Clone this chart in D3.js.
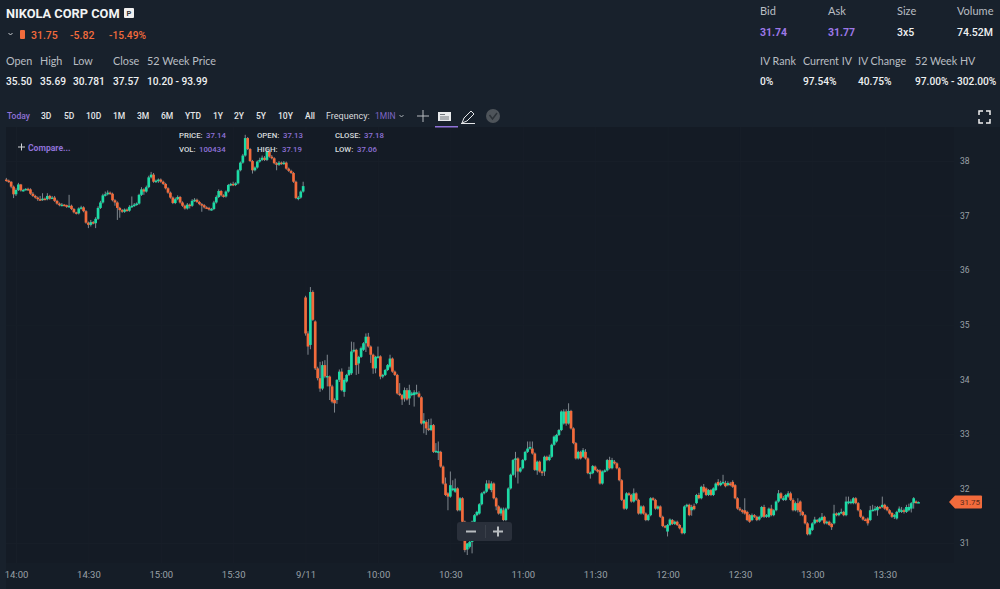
<!DOCTYPE html>
<html>
<head>
<meta charset="utf-8">
<script src="https://cdn.jsdelivr.net/npm/d3@7"></script>
<style>
html, body { margin: 0; padding: 0; background: #18212c; overflow: hidden; }
text { font-family: Roboto, sans-serif; }
.head { font-family: Lato, sans-serif; }
</style>
</head>
<body>
<div id="container"></div>
<script>
// one candle per minute, day one first, then 9/11 from the open
var opens = [
37.66,37.64,37.62,37.53,37.39,37.47,37.57,37.46,37.47,37.49,
37.48,37.40,37.36,37.33,37.30,37.29,37.31,37.30,37.36,37.31,
37.33,37.27,37.22,37.19,37.20,37.19,37.16,37.18,37.12,37.06,
37.04,37.13,37.15,37.08,36.87,36.83,36.88,36.86,36.94,37.14,
37.24,37.37,37.39,37.42,37.40,37.28,37.24,37.14,37.10,37.07,
37.11,37.09,37.16,37.18,37.20,37.22,37.38,37.48,37.44,37.52,
37.70,37.75,37.62,37.64,37.66,37.62,37.58,37.50,37.42,37.33,
37.23,37.30,37.34,37.24,37.18,37.13,37.20,37.18,37.27,37.29,
37.25,37.21,37.19,37.15,37.14,37.11,37.12,37.24,37.34,37.45,
37.37,37.35,37.44,37.56,37.58,37.56,37.59,37.83,37.97,38.10,
38.42,38.22,38.00,37.83,37.88,37.99,38.02,38.06,38.02,38.17,
38.08,38.05,37.96,37.93,37.97,37.95,37.97,37.86,37.82,37.78,
37.62,37.32,37.33,37.44,
35.50,34.84,34.63,35.60,35.06,34.20,34.02,33.83,34.26,34.05,
34.05,33.87,33.62,33.62,33.99,34.14,33.77,33.96,34.08,34.11,
34.51,34.54,34.29,34.41,34.54,34.66,34.78,34.60,34.45,34.20,
34.41,34.42,34.05,34.08,34.17,34.23,34.38,34.14,34.08,33.74,
33.71,33.65,33.80,33.65,33.71,33.71,33.74,33.74,33.67,33.19,
33.22,33.10,33.07,33.16,32.67,32.67,32.67,32.40,32.09,31.91,
31.85,31.97,31.94,32.00,31.60,31.82,31.39,30.88,30.93,31.02,
31.39,31.51,31.54,31.71,31.91,31.94,32.09,31.97,32.09,31.82,
31.67,31.54,31.60,31.42,31.63,32.00,32.25,32.52,32.55,32.31,
32.37,32.52,32.67,32.73,32.73,32.64,32.33,32.49,32.31,32.31,
32.58,32.52,32.58,32.80,32.86,32.98,33.07,33.19,33.41,33.19,
33.42,33.10,32.83,32.55,32.67,32.58,32.67,32.55,32.28,32.28,
32.40,32.34,32.33,32.09,32.31,32.33,32.52,32.37,32.49,32.46,
32.37,32.15,31.79,31.63,31.91,31.88,31.76,31.91,31.79,31.54,
31.67,31.54,31.42,31.51,31.82,31.79,31.63,31.67,31.48,31.31,
31.21,31.33,31.42,31.35,31.39,31.33,31.27,31.18,31.67,31.70,
31.60,31.68,31.73,31.88,31.82,32.03,32.00,31.88,31.97,31.88,
31.97,32.12,32.06,32.09,32.10,32.06,32.09,32.12,32.06,31.82,
31.63,31.60,31.60,31.57,31.51,31.42,31.51,31.48,31.43,31.48,
31.66,31.48,31.48,31.63,31.51,31.60,31.76,31.91,31.79,31.79,
31.85,31.91,31.79,31.60,31.73,31.76,31.57,31.51,31.36,31.16,
31.24,31.36,31.42,31.39,31.42,31.48,31.36,31.39,31.35,31.36,
31.54,31.51,31.55,31.57,31.51,31.73,31.73,31.73,31.82,31.73,
31.60,31.48,31.43,31.45,31.42,31.60,31.60,31.60,31.66,31.66,
31.70,31.66,31.60,31.55,31.48,31.45,31.57,31.57,31.60,31.57,
31.60,31.63,31.73,31.76,31.75
];
var closes = [
37.64,37.62,37.53,37.39,37.47,37.57,37.46,37.47,37.49,37.48,
37.40,37.36,37.33,37.30,37.29,37.31,37.30,37.36,37.31,37.33,
37.27,37.22,37.19,37.20,37.19,37.16,37.18,37.12,37.06,37.04,
37.13,37.15,37.08,36.87,36.83,36.88,36.86,36.94,37.14,37.24,
37.37,37.39,37.42,37.40,37.28,37.24,37.14,37.10,37.07,37.11,
37.09,37.16,37.18,37.20,37.22,37.38,37.48,37.44,37.52,37.70,
37.75,37.62,37.64,37.66,37.62,37.58,37.50,37.42,37.33,37.23,
37.30,37.34,37.24,37.18,37.13,37.20,37.18,37.27,37.29,37.25,
37.21,37.19,37.15,37.14,37.11,37.12,37.24,37.34,37.45,37.37,
37.35,37.44,37.56,37.58,37.56,37.59,37.83,37.97,38.10,38.42,
38.22,38.00,37.83,37.88,37.99,38.02,38.06,38.02,38.17,38.08,
38.05,37.96,37.93,37.97,37.95,37.97,37.86,37.82,37.78,37.62,
37.32,37.33,37.44,37.54,
34.84,34.60,35.60,35.09,34.20,34.02,33.83,34.26,34.05,34.06,
33.87,33.59,33.56,33.99,34.14,33.80,33.99,34.08,34.17,34.51,
34.54,34.26,34.41,34.57,34.66,34.78,34.60,34.45,34.20,34.41,
34.42,34.05,34.08,34.17,34.26,34.38,34.14,34.08,33.74,33.71,
33.63,33.80,33.63,33.80,33.74,33.76,33.76,33.68,33.19,33.24,
33.10,33.07,33.16,32.67,32.69,32.68,32.40,32.09,31.88,31.85,
32.06,32.00,32.00,31.60,31.82,31.39,30.87,30.99,31.02,31.39,
31.51,31.57,31.71,31.91,31.94,32.09,32.00,32.09,31.82,31.67,
31.54,31.63,31.42,31.63,32.00,32.25,32.52,32.55,32.31,32.37,
32.52,32.67,32.73,32.76,32.64,32.34,32.49,32.31,32.28,32.58,
32.52,32.58,32.80,32.95,32.98,33.07,33.41,33.41,33.19,33.42,
33.10,32.83,32.55,32.67,32.55,32.70,32.55,32.28,32.29,32.41,
32.34,32.31,32.09,32.31,32.33,32.52,32.37,32.52,32.46,32.37,
32.15,31.79,31.63,31.91,31.88,31.76,31.91,31.79,31.54,31.67,
31.54,31.42,31.51,31.82,31.79,31.63,31.67,31.48,31.31,31.29,
31.33,31.43,31.35,31.39,31.33,31.27,31.18,31.67,31.70,31.51,
31.66,31.62,31.88,31.82,32.03,31.94,31.88,31.97,31.88,32.00,
32.09,32.06,32.10,32.12,32.04,32.10,32.06,32.03,31.82,31.63,
31.60,31.57,31.54,31.42,31.39,31.51,31.48,31.42,31.48,31.66,
31.48,31.51,31.63,31.51,31.60,31.76,31.91,31.82,31.82,31.88,
31.91,31.79,31.60,31.73,31.60,31.57,31.51,31.36,31.16,31.27,
31.36,31.43,31.39,31.45,31.48,31.36,31.39,31.33,31.29,31.54,
31.51,31.55,31.57,31.51,31.76,31.76,31.76,31.82,31.73,31.60,
31.48,31.43,31.42,31.36,31.60,31.61,31.63,31.66,31.65,31.70,
31.63,31.60,31.54,31.48,31.51,31.57,31.63,31.60,31.57,31.66,
31.66,31.73,31.82,31.74,31.75
];
var highs = [
37.69,37.66,37.63,37.55,37.50,37.60,37.58,37.49,37.50,37.51,
37.50,37.43,37.38,37.35,37.36,37.41,37.33,37.41,37.38,37.36,
37.36,37.29,37.24,37.23,37.21,37.20,37.38,37.20,37.14,37.07,
37.15,37.18,37.17,37.10,36.89,36.92,36.90,36.97,37.17,37.27,
37.40,37.44,37.46,37.44,37.42,37.30,37.26,37.16,37.12,37.13,
37.13,37.19,37.35,37.23,37.24,37.40,37.52,37.50,37.55,37.73,
37.80,37.78,37.66,37.68,37.68,37.64,37.60,37.52,37.44,37.35,
37.33,37.37,37.36,37.26,37.20,37.23,37.22,37.30,37.32,37.31,
37.27,37.23,37.21,37.17,37.16,37.14,37.27,37.37,37.48,37.47,
37.39,37.46,37.58,37.60,37.62,37.61,37.85,37.99,38.13,38.48,
38.44,38.24,38.02,37.90,38.01,38.06,38.10,38.09,38.25,38.19,
38.11,38.07,37.98,38.00,37.99,38.00,37.99,37.88,37.84,37.80,
37.64,37.36,37.46,37.62,
35.53,34.88,35.69,35.63,35.08,34.23,34.32,34.33,34.35,34.45,
34.07,33.90,33.65,34.00,34.18,34.20,34.02,34.10,34.23,34.69,
34.68,34.56,34.43,34.60,34.68,34.84,34.85,34.62,34.47,34.43,
34.60,34.44,34.10,34.19,34.28,34.45,34.40,34.16,34.10,33.93,
33.73,33.85,33.84,33.90,33.77,33.80,33.90,33.78,33.69,33.38,
33.25,33.27,33.28,33.18,32.83,32.86,32.69,32.42,32.20,31.93,
32.31,32.15,32.18,32.02,31.84,31.84,31.41,31.00,31.04,31.41,
31.53,31.59,31.73,31.93,31.96,32.15,32.15,32.13,32.11,31.84,
31.69,31.65,31.65,31.65,32.02,32.27,32.54,32.67,32.57,32.39,
32.54,32.69,32.86,32.86,32.86,32.66,32.51,32.51,32.33,32.60,
32.60,32.62,32.82,32.97,33.00,33.09,33.43,33.45,33.45,33.56,
33.44,33.12,32.85,32.69,32.69,32.74,32.72,32.57,32.31,32.43,
32.42,32.36,32.35,32.33,32.35,32.54,32.58,32.56,32.52,32.48,
32.39,32.17,31.81,31.93,31.93,31.90,32.00,31.93,31.81,31.69,
31.69,31.56,31.53,31.84,31.84,31.81,31.69,31.69,31.50,31.33,
31.35,31.45,31.44,31.41,31.41,31.35,31.29,31.69,31.72,31.72,
31.70,31.72,31.90,31.92,32.05,32.08,32.02,31.99,31.99,32.02,
32.11,32.17,32.14,32.25,32.14,32.13,32.12,32.15,32.08,31.84,
31.66,31.62,31.82,31.59,31.53,31.54,31.53,31.50,31.50,31.68,
31.70,31.53,31.65,31.70,31.62,31.78,31.97,31.93,31.86,31.90,
31.95,31.94,31.82,31.76,31.82,31.78,31.59,31.53,31.38,31.29,
31.38,31.48,31.44,31.47,31.55,31.50,31.41,31.41,31.37,31.70,
31.56,31.57,31.63,31.59,31.85,31.85,31.80,31.84,31.84,31.75,
31.62,31.50,31.45,31.47,31.68,31.70,31.68,31.68,31.68,31.85,
31.72,31.68,31.62,31.57,31.53,31.59,31.67,31.66,31.63,31.70,
31.72,31.75,31.84,31.78,31.76
];
var lows = [
37.62,37.60,37.50,37.32,37.36,37.45,37.44,37.44,37.46,37.45,
37.38,37.34,37.31,37.27,37.27,37.27,37.28,37.28,37.29,37.31,
37.25,37.20,37.17,37.17,37.17,37.14,37.14,37.10,37.04,37.02,
37.02,37.11,37.06,36.85,36.77,36.80,36.84,36.77,36.92,37.12,
37.22,37.35,37.37,37.38,37.26,37.18,36.92,36.96,37.05,37.05,
37.07,37.07,37.14,37.16,37.18,37.20,37.36,37.38,37.42,37.50,
37.68,37.60,37.60,37.60,37.60,37.56,37.48,37.40,37.31,37.21,
37.21,37.28,37.22,37.16,37.11,37.11,37.13,37.16,37.25,37.23,
37.19,37.07,37.13,37.12,37.09,37.09,37.10,37.22,37.32,37.35,
37.33,37.33,37.42,37.54,37.54,37.54,37.57,37.81,37.95,38.08,
38.20,37.98,37.77,37.81,37.86,37.97,38.00,38.00,38.00,38.06,
38.03,37.94,37.83,37.91,37.93,37.93,37.84,37.80,37.76,37.60,
37.30,37.28,37.31,37.42,
34.80,34.45,34.55,35.07,34.17,33.98,33.77,33.80,34.02,33.87,
33.62,33.56,33.39,33.55,33.95,33.78,33.68,33.94,34.06,34.08,
34.49,34.08,34.10,34.39,34.52,34.50,34.58,34.30,34.10,34.11,
34.38,34.00,34.02,34.06,34.15,34.20,34.12,34.06,33.72,33.69,
33.53,33.59,33.61,33.53,33.69,33.50,33.72,33.66,33.17,33.01,
32.98,33.05,33.05,32.65,32.65,32.52,32.38,32.07,31.86,31.60,
31.83,31.95,31.92,31.58,31.58,31.37,30.83,30.78,30.90,30.81,
31.37,31.49,31.52,31.69,31.89,31.92,31.98,31.93,31.80,31.60,
31.52,31.50,31.40,31.40,31.61,31.98,32.23,32.20,32.09,32.29,
32.35,32.50,32.65,32.71,32.62,32.32,32.25,32.29,32.23,32.23,
32.50,32.50,32.56,32.78,32.84,32.96,33.05,33.17,33.15,33.17,
33.08,32.81,32.53,32.53,32.53,32.56,32.53,32.26,32.18,32.26,
32.32,32.29,32.07,32.07,32.29,32.31,32.35,32.35,32.44,32.35,
32.13,31.77,31.61,31.61,31.86,31.74,31.74,31.77,31.52,31.52,
31.52,31.40,31.40,31.49,31.77,31.61,31.61,31.46,31.29,31.27,
31.12,31.31,31.33,31.33,31.31,31.25,31.16,31.16,31.65,31.49,
31.50,31.60,31.71,31.80,31.80,31.92,31.86,31.86,31.86,31.86,
31.95,32.04,32.04,32.07,32.02,32.04,32.04,32.01,31.80,31.61,
31.58,31.54,31.52,31.40,31.37,31.40,31.46,31.40,31.41,31.46,
31.46,31.46,31.46,31.49,31.49,31.58,31.74,31.80,31.77,31.77,
31.83,31.77,31.58,31.58,31.56,31.50,31.49,31.34,31.14,31.14,
31.22,31.34,31.37,31.37,31.40,31.34,31.34,31.31,31.24,31.34,
31.49,31.49,31.53,31.49,31.49,31.71,31.71,31.71,31.71,31.58,
31.46,31.41,31.40,31.32,31.40,31.58,31.58,31.50,31.63,31.64,
31.61,31.58,31.52,31.46,31.44,31.43,31.55,31.55,31.54,31.55,
31.58,31.56,31.63,31.72,31.74
];

var priceTicks = [31, 32, 33, 34, 35, 36, 37, 38];
var timeTickIndex = [4, 34, 64, 94, 124, 154, 184, 214, 244, 274, 304, 334, 364];
var timeTickLabels = ["14:00", "14:30", "15:00", "15:30", "9/11", "10:00", "10:30", "11:00", "11:30", "12:00", "12:30", "13:00", "13:30"];
var lastPrice = 31.75;

var rangeButtons = ["Today", "3D", "5D", "10D", "1M", "3M", "6M", "YTD", "1Y", "2Y", "5Y", "10Y", "All"];
var rangeButtonX = [7, 41, 64, 86, 113, 137, 161, 185, 213, 234, 256, 278, 305];

var w = 1000, h = 589;
var bgHead = "#18212c", bgChart = "#141b25", up = "#1ddba6", down = "#f26b3c", purple = "#9d78e8", wickCol = "#7f878e";

var svg = d3.select("#container").append("svg").attr("width", w).attr("height", h).style("display", "block");

svg.append("rect").attr("width", w).attr("height", h).attr("fill", bgHead);
svg.append("rect").attr("x", 6).attr("y", 127).attr("width", 948).attr("height", 436).attr("fill", bgChart);
svg.append("rect").attr("x", 954).attr("y", 127).attr("width", 46).attr("height", 462).attr("fill", "#151d27");
svg.append("rect").attr("x", 6).attr("y", 563).attr("width", 948).attr("height", 26).attr("fill", "#151d27");

var xScale = d3.scaleLinear().domain([0, 378]).range([6.35, 918.5]);
var yScale = d3.scaleLinear().domain([31, 38]).range([543, 161]);

/*axes, the ticks double as the faint grid*/
var xAxis = d3.axisBottom(xScale).tickValues(timeTickIndex).tickSize(436)
    .tickFormat(function (d, i) { return timeTickLabels[i]; });
var gx = svg.append("g").attr("transform", "translate(0,127)").call(xAxis);
var yAxis = d3.axisRight(yScale).tickValues(priceTicks).tickSize(948).tickFormat(d3.format("d"));
var gy = svg.append("g").attr("transform", "translate(6,0)").call(yAxis);
gx.select(".domain").remove();
gy.select(".domain").remove();
gx.selectAll("line").attr("stroke", "#171e28");
gy.selectAll("line").attr("stroke", "#171e28");
gx.selectAll("text").attr("fill", "#9aa1a8").attr("font-size", 9.5).attr("y", 444);
gy.selectAll("text").attr("fill", "#9aa1a8").attr("font-size", 8.5).attr("x", 954).attr("dy", "0.32em");

/*candles*/
var candles = closes.map(function (c, i) {
    return {i: i, open: opens[i], close: c, high: highs[i], low: lows[i]};
});
var cg = svg.append("g");
cg.selectAll("line.wick").data(candles).enter().append("line")
    .attr("class", "wick")
    .attr("x1", function (d) { return xScale(d.i); })
    .attr("x2", function (d) { return xScale(d.i); })
    .attr("y1", function (d) { return yScale(d.high); })
    .attr("y2", function (d) { return yScale(d.low); })
    .attr("stroke", wickCol)
    .attr("stroke-width", 1);
cg.selectAll("rect.body").data(candles).enter().append("rect")
    .attr("class", "body")
    .attr("x", function (d) { return xScale(d.i) - 1.35; })
    .attr("width", 2.7)
    .attr("y", function (d) { return yScale(Math.max(d.open, d.close)); })
    .attr("height", function (d) { return Math.max(1.5, Math.abs(yScale(d.open) - yScale(d.close))); })
    .attr("fill", function (d) { return d.close >= d.open ? up : down; });

function txt(x, y, s, size, fill, weight, cls) {
    return svg.append("text").attr("x", x).attr("y", y).text(s)
        .attr("font-size", size).attr("fill", fill)
        .attr("font-weight", weight || 400)
        .attr("class", cls || null);
}

/*header left*/
txt(6, 18, "NIKOLA CORP COM", 12.8, "#f2f4f5", 700);
svg.append("rect").attr("x", 124).attr("y", 8).attr("width", 10).attr("height", 10).attr("rx", 1).attr("fill", "#f0f0f0");
txt(126.5, 16, "P", 7.5, "#333", 700);
svg.append("path").attr("d", "M8.5 33 L10.5 35 L12.5 33").attr("fill", "none").attr("stroke", "#c8ccd0").attr("stroke-width", 1);
svg.append("rect").attr("x", 20).attr("y", 30).attr("width", 5).attr("height", 9).attr("rx", 1).attr("fill", down);
txt(31, 39, "31.75", 10.5, down, 500);
txt(70, 39, "-5.82", 10.5, down, 500);
txt(109, 39, "-15.49%", 10.2, down, 500);

var leftHead = ["Open", "High", "Low", "Close", "52 Week Price"];
var leftVals = ["35.50", "35.69", "30.781", "37.57", "10.20 - 93.99"];
var leftX = [6, 40, 73, 113, 147];
leftHead.forEach(function (s, i) { txt(leftX[i], 65, s, 10.8, "#b9bec3", 400, "head"); });
leftVals.forEach(function (s, i) { txt(leftX[i], 85, s, 10.2, "#eef0f1", 500); });

/*header right*/
var quoteHead = ["Bid", "Ask", "Size", "Volume"];
var quoteVals = ["31.74", "31.77", "3x5", "74.52M"];
var quoteX = [760, 828, 897, 957];
quoteHead.forEach(function (s, i) { txt(quoteX[i], 15, s, 11, "#b9bec3", 400, "head"); });
quoteVals.forEach(function (s, i) { txt(quoteX[i], 36, s, 10.5, i < 2 ? purple : "#eef0f1", i < 2 ? 700 : 500); });

var ivHead = ["IV Rank", "Current IV", "IV Change", "52 Week HV"];
var ivVals = ["0%", "97.54%", "40.75%", "97.00% - 302.00%"];
var ivX = [760, 803, 858, 915];
ivHead.forEach(function (s, i) { txt(ivX[i], 65, s, 10.7, "#b9bec3", 400, "head"); });
ivVals.forEach(function (s, i) { txt(ivX[i], 85, s, 10.2, "#eef0f1", 500); });

/*toolbar*/
rangeButtons.forEach(function (s, i) {
    txt(rangeButtonX[i], 119, s, 8.5, i == 0 ? "#8f72d8" : "#e4e6e8", 500);
});
txt(326, 119, "Frequency:", 9, "#d8dbde", 400);
txt(375, 119, "1MIN", 8.5, "#7f66c4", 400);
svg.append("path").attr("d", "M399.5 115 L401.5 117 L403.5 115").attr("fill", "none").attr("stroke", "#aab0b6").attr("stroke-width", 1);
svg.append("path").attr("d", "M417 116 H429 M423 110 V122").attr("stroke", "#b8bcc0").attr("stroke-width", 1).attr("fill", "none");
svg.append("rect").attr("x", 438).attr("y", 112).attr("width", 13).attr("height", 9).attr("fill", "#e8eaec");
svg.append("path").attr("d", "M440 114.5 H445 M440 117 H449 M440 119 H449").attr("stroke", "#6e747a").attr("stroke-width", 1);
svg.append("rect").attr("x", 435).attr("y", 126).attr("width", 23).attr("height", 1.5).attr("fill", "#8f72d8");
svg.append("path").attr("d", "M462 123 L464 118 L471 111 L474 114 L467 121 Z M461 123.5 H475").attr("fill", "none").attr("stroke", "#e4e6e8").attr("stroke-width", 1);
svg.append("circle").attr("cx", 493).attr("cy", 116).attr("r", 7).attr("fill", "#4e545a");
svg.append("path").attr("d", "M489.5 115 L492.5 119 L497 113").attr("fill", "none").attr("stroke", "#2c3238").attr("stroke-width", 1.5);
svg.append("path").attr("d", "M979 115 V111 H983 M986 111 H990 V115 M990 119 V123 H986 M983 123 H979 V119")
    .attr("fill", "none").attr("stroke", "#f0f0f0").attr("stroke-width", 1.5);

/*crosshair readout and compare link*/
txt(179, 138, "PRICE:", 7.8, "#d8dbde", 500);
txt(206, 138, "37.14", 7.8, "#8f72d8", 500);
txt(179, 152, "VOL:", 7.8, "#d8dbde", 500);
txt(199, 152, "100434", 7.8, "#8f72d8", 500);
txt(257, 138, "OPEN:", 7.8, "#d8dbde", 500);
txt(283, 138, "37.13", 7.8, "#8f72d8", 500);
txt(257, 152, "HIGH:", 7.8, "#d8dbde", 500);
txt(282, 152, "37.19", 7.8, "#8f72d8", 500);
txt(335, 138, "CLOSE:", 7.8, "#d8dbde", 500);
txt(364, 138, "37.18", 7.8, "#8f72d8", 500);
txt(335, 152, "LOW:", 7.8, "#d8dbde", 500);
txt(357, 152, "37.06", 7.8, "#8f72d8", 500);
svg.append("path").attr("d", "M18 147 H25 M21.5 143.5 V150.5").attr("stroke", "#d0d3d6").attr("stroke-width", 1);
txt(28, 151, "Compare...", 8.6, "#8f72d8", 700);

/*zoom buttons*/
svg.append("rect").attr("x", 457).attr("y", 522).attr("width", 55).attr("height", 19).attr("rx", 3).attr("fill", "#2a303b");
svg.append("path").attr("d", "M485.5 525 V538").attr("stroke", "#3a404a");
svg.append("path").attr("d", "M466 531.5 H476").attr("stroke", "#b8bcc0").attr("stroke-width", 2);
svg.append("path").attr("d", "M493 531.5 H503 M498 526.5 V536.5").attr("stroke", "#b8bcc0").attr("stroke-width", 2);

/*last price tag*/
var ty = yScale(lastPrice);
svg.append("path").attr("d", "M949 " + ty + " L955 " + (ty - 6.5) + " H981 Q982 " + (ty - 6.5) + " 982 " + (ty - 5.5) + " V" + (ty + 5.5) + " Q982 " + (ty + 6.5) + " 981 " + (ty + 6.5) + " H955 Z").attr("fill", down);
txt(960, ty + 3, String(lastPrice), 8, "#5a2a1a", 400);
</script>
</body>
</html>
